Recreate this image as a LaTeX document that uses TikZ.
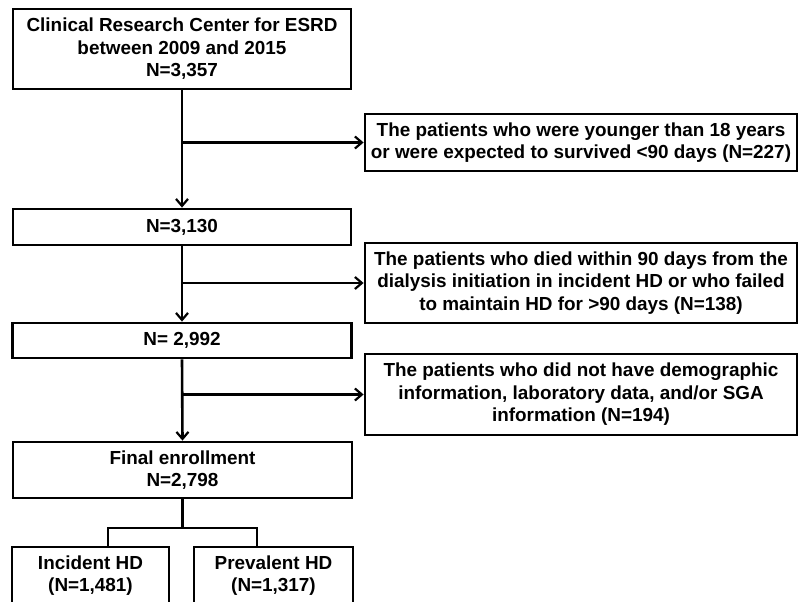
\documentclass[tikz,border=0pt]{standalone}
\usepackage{fontspec}
\setmainfont{Liberation Sans}
\usetikzlibrary{arrows.meta}

\begin{document}
\begin{tikzpicture}[
        x=1pt, y=-1pt,
        % 定義通用樣式
        box/.style={draw, line width=2.8pt, align=center, inner sep=0pt,
            font=\bfseries\fontsize{18.9}{22.5}\selectfont}, % 方框樣式
        flow/.style={line width=2.6pt}, % 連線樣式
        arrow/.style={flow, -{Straight Barb[length=7pt, width=12pt, line width=2.2pt]}} % 箭頭樣式
    ]
        \useasboundingbox (0,0) rectangle (798,602);

        % 1. 左側主流程方框
        \node[box, minimum width=338pt, minimum height=80pt] (start) at (182,49)
            {Clinical Research Center for ESRD\\between 2009 and 2015\\N=3,357};
        \node[box, minimum width=338pt, minimum height=36pt] (step1) at (182,227) {N=3,130};
        \node[box, minimum width=339pt, minimum height=35pt] (step2) at (182,340.5) {N= 2,992};
        \node[box, minimum width=339pt, minimum height=56pt] (final) at (182.5,470)
            {Final enrollment\\N=2,798};

        % 2. 右側排除方框
        \node[box, minimum width=432pt, minimum height=57pt] (excl1) at (581,142.5)
            {The patients who were younger than 18 years\\or were expected to survived <90 days (N=227)};
        \node[box, minimum width=432pt, minimum height=80pt] (excl2) at (581,283)
            {The patients who died within 90 days from the\\dialysis initiation in incident HD or who failed\\to maintain HD for >90 days (N=138)};
        \node[box, minimum width=432pt, minimum height=81pt] (excl3) at (581,394.5)
            {The patients who did not have demographic\\information, laboratory data, and/or SGA\\information (N=194)};

        % 3. 底部分組方框
        \node[box, minimum width=157pt, minimum height=57pt] (incident) at (90.5,575.5)
            {Incident HD\\(N=1,481)};
        \node[box, minimum width=159pt, minimum height=57pt] (prevalent) at (273.5,575.5)
            {Prevalent HD\\(N=1,317)};

        % 4. 主幹箭頭
        \draw[arrow] (start.south) -- (step1.north);
        \draw[arrow] (step1.south) -- (step2.north);
        \draw[arrow] (step2.south) -- (final.north);

        % 5. 排除箭頭
        \draw[arrow] (start.south |- excl1.west) -- (excl1.west);
        \draw[arrow] (step1.south |- excl2.west) -- (excl2.west);
        \draw[arrow] (step2.south |- excl3.west) -- (excl3.west);

        % 6. 分組連線
        \coordinate (split) at (182.5,528);
        \coordinate (splitL) at (108,528);
        \coordinate (splitR) at (257,528);
        \draw[flow] (final.south) -- (split);
        \draw[flow, line cap=rect] (splitL) -- (splitR);
        \draw[flow] (splitL) -- (splitL |- incident.north);
        \draw[flow] (splitR) -- (splitR |- prevalent.north);

    \end{tikzpicture}
\end{document}
